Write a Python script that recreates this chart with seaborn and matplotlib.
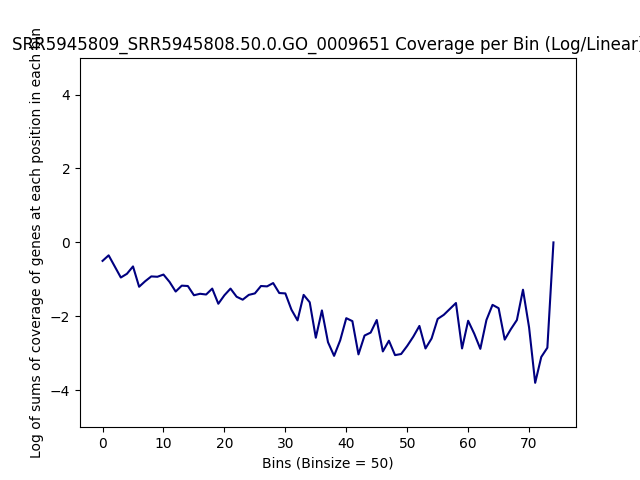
import matplotlib
matplotlib.use("Agg")
import matplotlib.pyplot as plt
import seaborn as sns

values = [-0.5, -0.35, -0.65, -0.95, -0.85, -0.65, -1.2, -1.05, -0.92, -0.93,
          -0.87, -1.07, -1.33, -1.17, -1.18, -1.43, -1.39, -1.41, -1.25, -1.66,
          -1.43, -1.25, -1.47, -1.55, -1.42, -1.38, -1.18, -1.19, -1.1, -1.37,
          -1.38, -1.82, -2.11, -1.42, -1.62, -2.58, -1.84, -2.7, -3.07, -2.65,
          -2.05, -2.13, -3.03, -2.52, -2.44, -2.1, -2.95, -2.66, -3.05, -3.02,
          -2.8, -2.55, -2.26, -2.87, -2.6, -2.07, -1.96, -1.8, -1.64, -2.87,
          -2.12, -2.47, -2.88, -2.1, -1.69, -1.78, -2.63, -2.35, -2.1, -1.28,
          -2.3, -3.8, -3.1, -2.85, 0.0]
bins = list(range(len(values)))

fig, ax = plt.subplots(figsize=(6.4, 4.8), dpi=100)
sns.lineplot(x=bins, y=values, color="navy", ax=ax)
ax.set_ylim(-5, 5)
ax.set_title("SRR5945809_SRR5945808.50.0.GO_0009651 Coverage per Bin (Log/Linear)")
ax.set_xlabel("Bins (Binsize = 50)")
ax.set_ylabel("Log of sums of coverage of genes at each position in each bin")
fig.savefig("out.png")
